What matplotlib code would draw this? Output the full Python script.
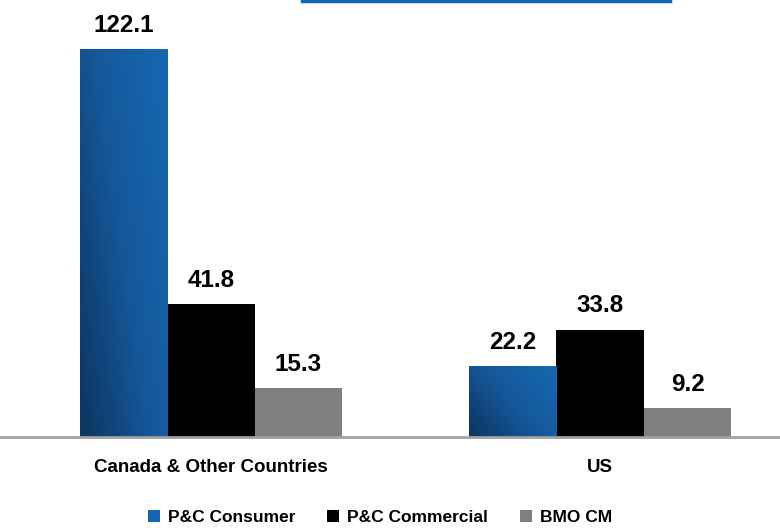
import matplotlib.pyplot as plt
import numpy as np
from matplotlib.lines import Line2D
from matplotlib.patches import Patch
from matplotlib.colors import LinearSegmentedColormap

plt.rcParams["font.family"] = ["Liberation Sans", "DejaVu Sans"]

# 数据
categories = ["Canada & Other Countries", "US"]
series = ["P&C Consumer", "P&C Commercial", "BMO CM"]
consumer = [122.1, 22.2]
commercial = [41.8, 33.8]
bmo_cm = [15.3, 9.2]

fig = plt.figure(figsize=(7.8, 5.28), dpi=100)
ax = fig.add_axes([0, 0.1723, 1, 0.8277])

x = np.arange(len(categories))
w = 0.225

# 蓝色渐变
blue_cmap = LinearSegmentedColormap.from_list("bmo", ["#0d3560", "#15589a", "#1668b2"])
grad_x, grad_y = np.meshgrid(np.linspace(0, 1, 64), np.linspace(0, 1, 64))
grad = 0.6 * grad_x + 0.4 * grad_y

bars_c = ax.bar(x - w, consumer, w, color="#1565b0", linewidth=0)
bars_m = ax.bar(x, commercial, w, color="#000000", linewidth=0)
bars_b = ax.bar(x + w, bmo_cm, w, color="#808080", linewidth=0)

for b in bars_c:
    b.set_facecolor("none")
    x0, y0 = b.get_x(), b.get_y()
    im = ax.imshow(grad, cmap=blue_cmap, origin="lower", aspect="auto",
                   extent=[x0, x0 + b.get_width(), y0, y0 + b.get_height()],
                   zorder=b.get_zorder())
    im.set_clip_path(b)

for bars in (bars_c, bars_m, bars_b):
    for b in bars:
        ax.annotate(f"{b.get_height():.1f}",
                    (b.get_x() + b.get_width() / 2, b.get_height()),
                    xytext=(0, 17), textcoords="offset points",
                    ha="center", va="center", fontsize=17.5, fontweight="bold")

ax.set_xlim(-0.5424, 1.4627)
ax.set_ylim(0, 137.5)
ax.set_yticks([])
ax.set_xticks(x)
ax.set_xticklabels(categories, fontsize=13.5, fontweight="bold")
ax.tick_params(axis="x", length=0, pad=15.5)
for s in ("top", "right", "left"):
    ax.spines[s].set_visible(False)
ax.spines["bottom"].set_color("#a0a0a0")
ax.spines["bottom"].set_linewidth(2)

# 顶部蓝线
fig.add_artist(Line2D([302 / 780, 670 / 780], [0.998, 0.998],
                      transform=fig.transFigure, color="#1565b0", linewidth=2.5))

handles = [Patch(facecolor="#1565b0"), Patch(facecolor="#000000"), Patch(facecolor="#808080")]
fig.legend(handles, series, loc="center", bbox_to_anchor=(0.487, 0.019), ncol=3,
           frameon=False, handlelength=0.68, handleheight=0.68, handletextpad=0.45,
           columnspacing=1.85, borderpad=0, prop={"size": 12.5, "weight": "bold"})

fig.savefig("out.png", dpi=100)
